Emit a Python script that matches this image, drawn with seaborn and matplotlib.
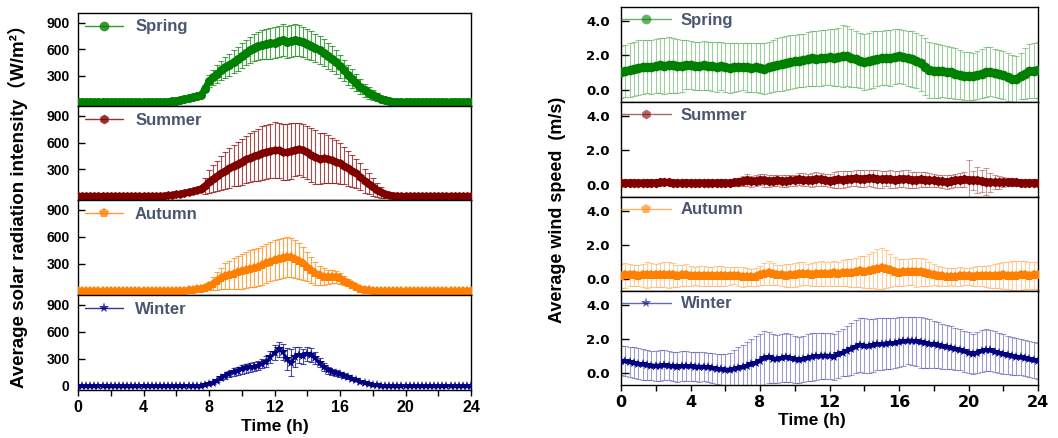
import numpy as np
import pandas as pd
import matplotlib
matplotlib.use("Agg")
import matplotlib.pyplot as plt
import seaborn as sns
from matplotlib.ticker import MultipleLocator, FixedLocator, FormatStrFormatter

sns.set_style("ticks")
plt.rcParams["font.family"] = ["Liberation Sans", "Noto Sans CJK SC", "DejaVu Sans"]
plt.rcParams["font.weight"] = "bold"
plt.rcParams["axes.labelweight"] = "bold"
plt.rcParams["text.color"] = "black"
plt.rcParams["axes.labelcolor"] = "black"
plt.rcParams["xtick.color"] = "black"
plt.rcParams["ytick.color"] = "black"

# ---------------- data (15-minute resolution, 0..24 h) ----------------
time_h = np.linspace(0, 24, 97)
seasons = ["Spring", "Summer", "Autumn", "Winter"]

solar_spring = [0, 0, 0, 0, 0, 0, 0, 0,
                0, 0, 0, 0, 0, 0, 0, 0,
                0, 0, 0, 0, 0, 0, 3, 8,
                14, 22, 32, 42, 52, 64, 78, 150,
                240, 280, 320, 360, 395, 425, 455, 490,
                525, 560, 590, 615, 635, 648, 658, 665,
                672, 690, 700, 685, 690, 705, 698, 680,
                660, 640, 615, 590, 560, 525, 490, 450,
                405, 360, 310, 265, 220, 172, 132, 104,
                80, 58, 38, 22, 12, 5, 0, 0,
                0, 0, 0, 0, 0, 0, 0, 0,
                0, 0, 0, 0, 0, 0, 0, 0,
                0]
solar_spring_err = [0, 0, 0, 0, 0, 0, 0, 0,
                    0, 0, 0, 0, 0, 0, 0, 0,
                    0, 0, 0, 0, 0, 0, 0, 0,
                    0, 0, 0, 0, 0, 0, 0, 40,
                    70, 85, 100, 110, 120, 125, 130, 135,
                    140, 145, 150, 155, 160, 165, 170, 172,
                    175, 178, 180, 182, 180, 178, 175, 172,
                    168, 165, 160, 155, 150, 145, 140, 135,
                    128, 120, 112, 105, 95, 85, 75, 65,
                    55, 45, 35, 25, 15, 8, 0, 0,
                    0, 0, 0, 0, 0, 0, 0, 0,
                    0, 0, 0, 0, 0, 0, 0, 0,
                    0]
solar_summer = [0, 0, 0, 0, 0, 0, 0, 0,
                0, 0, 0, 0, 0, 0, 0, 0,
                0, 0, 0, 0, 0, 3, 6, 12,
                18, 25, 35, 45, 55, 68, 82, 115,
                160, 195, 225, 255, 285, 315, 340, 362,
                385, 410, 430, 448, 465, 482, 495, 505,
                515, 512, 495, 490, 500, 520, 528, 512,
                490, 462, 440, 420, 425, 418, 400, 385,
                365, 340, 312, 285, 255, 215, 170, 140,
                105, 70, 40, 20, 10, 5, 2, 0,
                0, 0, 0, 0, 0, 0, 0, 0,
                0, 0, 0, 0, 0, 0, 0, 0,
                0]
solar_summer_err = [0, 0, 0, 0, 0, 0, 0, 0,
                    0, 0, 0, 0, 0, 0, 0, 0,
                    0, 0, 0, 0, 0, 0, 0, 0,
                    0, 0, 0, 0, 0, 0, 0, 90,
                    130, 150, 170, 190, 205, 220, 232, 245,
                    258, 268, 278, 285, 292, 298, 303, 307,
                    310, 312, 314, 315, 314, 300, 290, 295,
                    300, 305, 300, 290, 280, 268, 255, 240,
                    225, 210, 195, 180, 165, 150, 135, 118,
                    100, 80, 60, 40, 20, 10, 0, 0,
                    0, 0, 0, 0, 0, 0, 0, 0,
                    0, 0, 0, 0, 0, 0, 0, 0,
                    0]
solar_autumn = [0, 0, 0, 0, 0, 0, 0, 0,
                0, 0, 0, 0, 0, 0, 0, 0,
                0, 0, 0, 0, 0, 0, 0, 0,
                0, 2, 4, 7, 12, 18, 26, 38,
                55, 80, 110, 140, 165, 180, 192, 205,
                218, 232, 245, 255, 268, 285, 305, 325,
                345, 360, 370, 375, 372, 358, 335, 305,
                270, 230, 195, 172, 160, 155, 158, 155,
                140, 115, 90, 65, 42, 25, 12, 5,
                2, 0, 0, 0, 0, 0, 0, 0,
                0, 0, 0, 0, 0, 0, 0, 0,
                0, 0, 0, 0, 0, 0, 0, 0,
                0]
solar_autumn_err = [0, 0, 0, 0, 0, 0, 0, 0,
                    0, 0, 0, 0, 0, 0, 0, 0,
                    0, 0, 0, 0, 0, 0, 0, 0,
                    0, 0, 0, 0, 0, 0, 0, 20,
                    40, 70, 100, 120, 140, 155, 170, 185,
                    195, 200, 205, 210, 213, 215, 218, 220,
                    222, 222, 222, 220, 218, 212, 200, 185,
                    165, 145, 125, 110, 90, 80, 75, 68,
                    60, 50, 40, 30, 20, 12, 5, 0,
                    0, 0, 0, 0, 0, 0, 0, 0,
                    0, 0, 0, 0, 0, 0, 0, 0,
                    0, 0, 0, 0, 0, 0, 0, 0,
                    0]
solar_winter = [0, 0, 0, 0, 0, 0, 0, 0,
                0, 0, 0, 0, 0, 0, 0, 0,
                0, 0, 0, 0, 0, 0, 0, 0,
                0, 0, 0, 0, 0, 0, 3, 8,
                18, 38, 60, 85, 110, 135, 155, 170,
                185, 195, 205, 212, 225, 245, 270, 320,
                370, 405, 380, 300, 260, 320, 340, 330,
                355, 345, 310, 260, 210, 175, 155, 140,
                130, 115, 95, 78, 62, 48, 35, 22,
                12, 5, 0, 0, 0, 0, 0, 0,
                0, 0, 0, 0, 0, 0, 0, 0,
                0, 0, 0, 0, 0, 0, 0, 0,
                0]
solar_winter_err = [0, 0, 0, 0, 0, 0, 0, 0,
                    0, 0, 0, 0, 0, 0, 0, 0,
                    0, 0, 0, 0, 0, 0, 0, 0,
                    0, 0, 0, 0, 0, 0, 0, 0,
                    8, 12, 18, 22, 28, 35, 40, 45,
                    48, 50, 52, 50, 48, 50, 60, 70,
                    80, 85, 90, 120, 150, 110, 90, 85,
                    80, 75, 70, 55, 45, 40, 35, 32,
                    30, 25, 20, 15, 12, 8, 5, 0,
                    0, 0, 0, 0, 0, 0, 0, 0,
                    0, 0, 0, 0, 0, 0, 0, 0,
                    0, 0, 0, 0, 0, 0, 0, 0,
                    0]

wind_spring = [1.05, 1.10, 1.15, 1.22, 1.28, 1.32, 1.35, 1.33,
               1.38, 1.42, 1.40, 1.44, 1.42, 1.38, 1.40, 1.45,
               1.44, 1.40, 1.38, 1.42, 1.40, 1.36, 1.34, 1.38,
               1.32, 1.28, 1.30, 1.34, 1.35, 1.30, 1.28, 1.30,
               1.25, 1.22, 1.30, 1.38, 1.45, 1.50, 1.55, 1.60,
               1.65, 1.70, 1.72, 1.78, 1.82, 1.80, 1.84, 1.86,
               1.88, 1.86, 1.90, 1.98, 1.95, 1.85, 1.78, 1.70,
               1.62, 1.68, 1.75, 1.80, 1.84, 1.86, 1.84, 1.92,
               1.96, 1.90, 1.82, 1.78, 1.70, 1.55, 1.35, 1.18,
               1.12, 1.08, 1.10, 1.05, 1.02, 0.95, 0.88, 0.82,
               0.80, 0.78, 0.85, 0.95, 1.02, 1.05, 0.98, 0.92,
               0.85, 0.75, 0.65, 0.62, 0.80, 0.95, 1.08, 1.12,
               1.15]
wind_spring_err = [1.50, 1.52, 1.55, 1.58, 1.60, 1.58, 1.55, 1.56,
                   1.58, 1.60, 1.62, 1.60, 1.58, 1.55, 1.50, 1.42,
                   1.40, 1.38, 1.40, 1.42, 1.40, 1.42, 1.44, 1.40,
                   1.42, 1.45, 1.44, 1.40, 1.38, 1.40, 1.42, 1.44,
                   1.45, 1.48, 1.50, 1.52, 1.54, 1.55, 1.58, 1.56,
                   1.55, 1.52, 1.54, 1.56, 1.58, 1.60, 1.62, 1.60,
                   1.62, 1.65, 1.70, 1.80, 1.75, 1.68, 1.62, 1.58,
                   1.60, 1.62, 1.64, 1.60, 1.58, 1.60, 1.62, 1.58,
                   1.55, 1.58, 1.60, 1.62, 1.60, 1.62, 1.65, 1.62,
                   1.58, 1.55, 1.52, 1.50, 1.48, 1.45, 1.42, 1.40,
                   1.40, 1.38, 1.40, 1.42, 1.44, 1.42, 1.40, 1.38,
                   1.38, 1.40, 1.38, 1.36, 1.35, 1.45, 1.55, 1.60,
                   1.62]
wind_summer = [0.12, 0.12, 0.13, 0.12, 0.11, 0.12, 0.13, 0.12,
               0.13, 0.15, 0.16, 0.14, 0.12, 0.11, 0.12, 0.13,
               0.12, 0.11, 0.12, 0.12, 0.11, 0.12, 0.12, 0.13,
               0.12, 0.12, 0.14, 0.18, 0.24, 0.28, 0.22, 0.25,
               0.30, 0.26, 0.22, 0.25, 0.28, 0.24, 0.22, 0.26,
               0.28, 0.32, 0.30, 0.27, 0.30, 0.35, 0.32, 0.28,
               0.25, 0.28, 0.32, 0.30, 0.33, 0.36, 0.38, 0.35,
               0.36, 0.40, 0.38, 0.35, 0.32, 0.36, 0.34, 0.30,
               0.33, 0.36, 0.34, 0.30, 0.28, 0.32, 0.30, 0.27,
               0.26, 0.22, 0.20, 0.18, 0.22, 0.26, 0.30, 0.32,
               0.30, 0.28, 0.26, 0.22, 0.18, 0.16, 0.15, 0.14,
               0.15, 0.17, 0.16, 0.14, 0.13, 0.12, 0.12, 0.13,
               0.13]
wind_summer_err = [0.06, 0.06, 0.07, 0.06, 0.06, 0.07, 0.06, 0.06,
                   0.07, 0.08, 0.08, 0.07, 0.06, 0.06, 0.07, 0.06,
                   0.06, 0.06, 0.07, 0.06, 0.06, 0.07, 0.06, 0.07,
                   0.08, 0.10, 0.15, 0.22, 0.30, 0.35, 0.32, 0.30,
                   0.32, 0.38, 0.35, 0.30, 0.32, 0.36, 0.34, 0.30,
                   0.32, 0.35, 0.38, 0.36, 0.40, 0.42, 0.38, 0.36,
                   0.40, 0.45, 0.48, 0.50, 0.45, 0.42, 0.46, 0.50,
                   0.48, 0.45, 0.50, 0.52, 0.48, 0.45, 0.50, 0.48,
                   0.45, 0.48, 0.50, 0.46, 0.44, 0.45, 0.42, 0.40,
                   0.38, 0.36, 0.40, 0.42, 0.38, 0.36, 0.40, 0.42,
                   1.15, 0.55, 0.75, 0.65, 0.78, 0.55, 0.40, 0.35,
                   0.28, 0.25, 0.22, 0.20, 0.18, 0.16, 0.15, 0.14,
                   0.14]
wind_autumn = [0.20, 0.22, 0.24, 0.22, 0.20, 0.22, 0.25, 0.24,
               0.22, 0.24, 0.26, 0.25, 0.22, 0.20, 0.22, 0.24,
               0.20, 0.18, 0.17, 0.18, 0.16, 0.15, 0.17, 0.18,
               0.16, 0.18, 0.20, 0.17, 0.14, 0.12, 0.10, 0.14,
               0.22, 0.30, 0.34, 0.30, 0.25, 0.22, 0.20, 0.22,
               0.25, 0.30, 0.32, 0.28, 0.26, 0.30, 0.32, 0.30,
               0.30, 0.33, 0.30, 0.35, 0.38, 0.35, 0.40, 0.45,
               0.42, 0.48, 0.55, 0.58, 0.62, 0.58, 0.50, 0.42,
               0.38, 0.40, 0.42, 0.44, 0.40, 0.42, 0.38, 0.30,
               0.25, 0.20, 0.16, 0.14, 0.13, 0.14, 0.15, 0.16,
               0.15, 0.14, 0.16, 0.18, 0.16, 0.15, 0.18, 0.20,
               0.22, 0.20, 0.18, 0.20, 0.22, 0.22, 0.20, 0.22,
               0.22]
wind_autumn_err = [0.70, 0.72, 0.65, 0.62, 0.60, 0.68, 0.75, 0.70,
                   0.68, 0.72, 0.74, 0.76, 0.70, 0.65, 0.60, 0.62,
                   0.58, 0.55, 0.60, 0.58, 0.55, 0.56, 0.58, 0.60,
                   0.55, 0.52, 0.50, 0.55, 0.58, 0.55, 0.50, 0.52,
                   0.55, 0.62, 0.70, 0.65, 0.60, 0.62, 0.68, 0.66,
                   0.70, 0.72, 0.65, 0.62, 0.66, 0.70, 0.72, 0.68,
                   0.70, 0.74, 0.72, 0.75, 0.78, 0.80, 0.85, 0.90,
                   0.92, 0.98, 1.05, 1.15, 1.20, 1.10, 0.95, 0.85,
                   0.80, 0.78, 0.75, 0.80, 0.85, 0.82, 0.78, 0.70,
                   0.62, 0.58, 0.55, 0.52, 0.50, 0.52, 0.55, 0.50,
                   0.52, 0.55, 0.58, 0.60, 0.62, 0.65, 0.70, 0.74,
                   0.78, 0.80, 0.85, 0.88, 0.85, 0.82, 0.80, 0.78,
                   0.78]
wind_winter = [0.72, 0.70, 0.65, 0.60, 0.55, 0.50, 0.46, 0.44,
               0.42, 0.44, 0.45, 0.43, 0.40, 0.38, 0.40, 0.42,
               0.40, 0.38, 0.36, 0.37, 0.34, 0.30, 0.26, 0.22,
               0.19, 0.20, 0.24, 0.30, 0.36, 0.42, 0.50, 0.60,
               0.72, 0.88, 0.92, 0.85, 0.82, 0.88, 0.92, 0.86,
               0.80, 0.76, 0.82, 0.90, 0.95, 0.98, 1.00, 1.02,
               1.00, 0.95, 1.10, 1.20, 1.30, 1.40, 1.55, 1.62,
               1.60, 1.58, 1.62, 1.68, 1.70, 1.72, 1.74, 1.76,
               1.80, 1.85, 1.90, 1.88, 1.85, 1.80, 1.76, 1.72,
               1.68, 1.62, 1.56, 1.52, 1.48, 1.42, 1.35, 1.28,
               1.18, 1.12, 1.20, 1.30, 1.35, 1.32, 1.25, 1.18,
               1.12, 1.05, 1.00, 0.96, 0.92, 0.86, 0.80, 0.75,
               0.72]
wind_winter_err = [0.84, 0.86, 0.88, 0.90, 0.90, 0.88, 0.86, 0.85,
                   0.86, 0.88, 0.87, 0.85, 0.86, 0.88, 0.87, 0.86,
                   0.85, 0.84, 0.86, 0.85, 0.84, 0.86, 0.88, 0.90,
                   0.95, 1.00, 1.10, 1.20, 1.30, 1.40, 1.50, 1.55,
                   1.58, 1.60, 1.50, 1.45, 1.40, 1.42, 1.45, 1.40,
                   1.38, 1.35, 1.36, 1.38, 1.40, 1.38, 1.36, 1.35,
                   1.34, 1.36, 1.38, 1.40, 1.45, 1.50, 1.55, 1.58,
                   1.60, 1.58, 1.55, 1.52, 1.50, 1.50, 1.48, 1.46,
                   1.45, 1.42, 1.40, 1.42, 1.45, 1.48, 1.45, 1.42,
                   1.38, 1.35, 1.32, 1.28, 1.25, 1.22, 1.20, 1.20,
                   1.20, 1.18, 1.20, 1.22, 1.25, 1.22, 1.20, 1.18,
                   1.15, 1.12, 1.10, 1.08, 1.06, 1.05, 1.05, 1.05,
                   1.05]

x_ticks = [0, 4, 8, 12, 16, 20, 24]
solar_ticks = [300, 600, 900]
solar_ticks_bottom = [0, 300, 600, 900]
wind_ticks = [0.0, 2.0, 4.0]

solar = {"Spring": (solar_spring, solar_spring_err), "Summer": (solar_summer, solar_summer_err),
         "Autumn": (solar_autumn, solar_autumn_err), "Winter": (solar_winter, solar_winter_err)}
wind = {"Spring": (wind_spring, wind_spring_err), "Summer": (wind_summer, wind_summer_err),
        "Autumn": (wind_autumn, wind_autumn_err), "Winter": (wind_winter, wind_winter_err)}

rows = []
for s in seasons:
    for i, t in enumerate(time_h):
        rows.append({"season": s, "time": t,
                     "solar": solar[s][0][i], "solar_err": solar[s][1][i],
                     "wind": wind[s][0][i], "wind_err": wind[s][1][i]})
df = pd.DataFrame(rows)

# ---------------- style ----------------
colors = {"Spring": "#008000", "Summer": "#800000", "Autumn": "#ff8000", "Winter": "#000080"}
markers = {"Spring": "o", "Summer": "h", "Autumn": "p", "Winter": "*"}
legend_color = "#4a5670"

W, H = 1058, 438
fig = plt.figure(figsize=(W / 100, H / 100), dpi=100)


def px_axes(x0, x1, ytop, ybot):
    return fig.add_axes([x0 / W, 1 - ybot / H, (x1 - x0) / W, (ybot - ytop) / H])


left_bounds = [13, 106, 200, 295, 390]
right_bounds = [7, 102, 197, 291, 385]


def style_axes(ax, bottom):
    for sp in ax.spines.values():
        sp.set_visible(True)
        sp.set_color("black")
        sp.set_linewidth(1.0)
    ax.set_xlim(0, 24)
    ax.xaxis.set_major_locator(FixedLocator(x_ticks))
    ax.xaxis.set_minor_locator(MultipleLocator(2))
    if bottom:
        ax.tick_params(axis="x", which="both", direction="out", length=4, width=1,
                       bottom=True, labelbottom=True, pad=3)
    else:
        ax.tick_params(axis="x", which="both", bottom=False, labelbottom=False)
    ax.set_xlabel("")
    ax.set_ylabel("")


for k, s in enumerate(seasons):
    sub = df[df.season == s]
    c = colors[s]
    bottom = (k == 3)

    # ---- left: solar radiation ----
    ax = px_axes(78, 471, left_bounds[k], left_bounds[k + 1])
    ax.errorbar(sub["time"], sub["solar"], yerr=sub["solar_err"], fmt="none",
                ecolor=c, elinewidth=0.8, capsize=2.5, capthick=0.8, alpha=0.7, zorder=2)
    if s == "Winter":
        sns.lineplot(data=sub, x="time", y="solar", ax=ax, color=c, marker=markers[s],
                     markersize=7, markeredgewidth=0, linewidth=1.8, label=s, zorder=3,
                     errorbar=None)
    else:
        sns.lineplot(data=sub, x="time", y="solar", ax=ax, color=c, marker=markers[s],
                     markersize=6.5, markeredgewidth=0, linewidth=4.5, label=s, zorder=3,
                     errorbar=None)
    ax.set_ylim(-45, 1010)
    ax.yaxis.set_major_locator(FixedLocator(solar_ticks_bottom if bottom else solar_ticks))
    ax.tick_params(axis="y", direction="in", length=5, width=1, labelsize=10, pad=6)
    style_axes(ax, bottom)
    ax.tick_params(axis="x", labelsize=11.5)
    for lab in ax.get_yticklabels() + ax.get_xticklabels():
        lab.set_fontweight("bold")
    leg = ax.legend(loc="center left", bbox_to_anchor=(0.018, 0.85), frameon=False,
                    handlelength=2.3, handletextpad=0.7, borderaxespad=0,
                    borderpad=0, prop={"weight": "bold", "size": 12})
    for h in leg.legend_handles:
        h.set_linewidth(1.0)
        h.set_alpha(0.8)
        h.set_markersize(7 if s != "Winter" else 8)
    for t in leg.get_texts():
        t.set_color(legend_color)
    if bottom:
        ax.set_xlabel("Time (h)", fontsize=12.5, fontweight="bold")
        ax.xaxis.set_label_coords(0.5, -0.31)

    # ---- right: wind speed ----
    ax2 = px_axes(621, 1038, right_bounds[k], right_bounds[k + 1])
    ax2.errorbar(sub["time"], sub["wind"], yerr=sub["wind_err"], fmt="none",
                 ecolor=c, elinewidth=0.8, capsize=2.5, capthick=0.8, alpha=0.38, zorder=2)
    if s == "Winter":
        sns.lineplot(data=sub, x="time", y="wind", ax=ax2, color=c, marker=markers[s],
                     markersize=7, markeredgewidth=0, linewidth=3, label=s, zorder=3,
                     errorbar=None)
    else:
        sns.lineplot(data=sub, x="time", y="wind", ax=ax2, color=c, marker=markers[s],
                     markersize=7, markeredgewidth=0, linewidth=5, label=s, zorder=3,
                     errorbar=None)
    ax2.set_ylim(-0.7, 4.8)
    ax2.yaxis.set_major_locator(FixedLocator(wind_ticks))
    ax2.yaxis.set_major_formatter(FormatStrFormatter("%.1f"))
    ax2.tick_params(axis="y", direction="in", length=6, width=1, labelsize=9.5, pad=8)
    style_axes(ax2, bottom)
    ax2.tick_params(axis="x", labelsize=11.5)
    for lab in ax2.get_yticklabels() + ax2.get_xticklabels():
        lab.set_fontfamily("DejaVu Sans")
        lab.set_fontweight("bold")
    leg2 = ax2.legend(loc="center left", bbox_to_anchor=(0.0, 0.863), frameon=False,
                      handlelength=3.0, handletextpad=0.6, borderaxespad=0,
                      borderpad=0, prop={"weight": "bold", "size": 12})
    for h in leg2.legend_handles:
        h.set_linewidth(1.0)
        h.set_alpha(0.6)
        h.set_markersize(7 if s != "Winter" else 8)
    for t in leg2.get_texts():
        t.set_color(legend_color)
    if bottom:
        ax2.set_xlabel("Time (h)", fontsize=12.5, fontweight="bold")
        ax2.xaxis.set_label_coords(0.458, -0.30)

fig.text(18 / W, 1 - 202 / H, "Average solar radiation intensity（W/m²）", rotation=90,
         ha="center", va="center", fontsize=13.5, fontweight="bold",
         family=["Liberation Sans", "Noto Sans CJK SC", "DejaVu Sans"])
fig.text(558 / W, 1 - 210 / H, "Average wind speed  (m/s)", rotation=90,
         ha="center", va="center", fontsize=13, fontweight="bold")

fig.savefig("out.png", dpi=100)
